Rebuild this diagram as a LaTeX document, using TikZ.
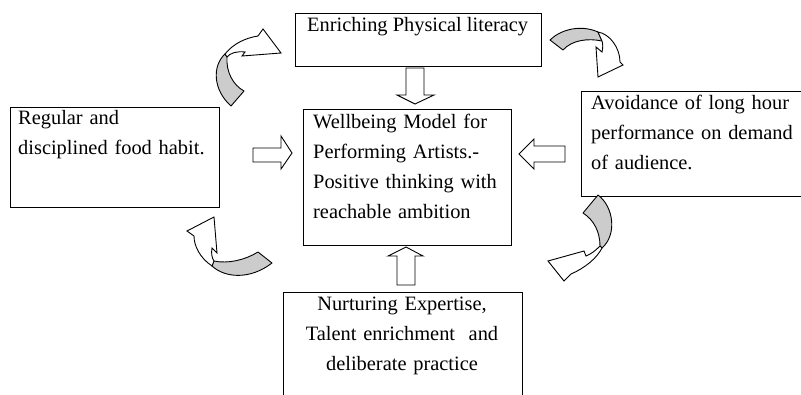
\documentclass[tikz,border=0pt]{standalone}
\usepackage{fontspec}
\setmainfont{Liberation Serif}
\begin{document}
\begin{tikzpicture}[x=1pt,y=-1pt,
  box/.style={draw=black, line width=0.8pt, fill=white, inner sep=0pt, anchor=north west},
  label/.style={inner sep=0pt, anchor=base west, align=left,
    font=\fontsize{20.4}{30.3}\selectfont},
  hollow/.style={draw=black, line width=0.9pt, line join=miter, fill=white},
  shade/.style={draw=black, line width=0.9pt, line join=round, fill=black!20}]
\useasboundingbox (0,0) rectangle (801,394);
\clip (0,0) rectangle (801,394);

% boxes
\node[box, minimum width=246, minimum height=53] (top) at (295,13) {};
\node[box, minimum width=208, minimum height=136] (mid) at (303,109) {};
\node[box, minimum width=209, minimum height=100] (left) at (10,107) {};
\node[box, minimum width=220, minimum height=105] (right) at (581,91) {};
\node[box, minimum width=239, minimum height=120] (bottom) at (283,292) {};

% texts
\node[label] (toptext) at (307,31) {Enriching Physical literacy};
\node[label, text width=200] (midtext) at (313,128)
  {Wellbeing Model for\\Performing Artists.-\\Positive thinking with\\reachable ambition};
\node[label, text width=200] (lefttext) at (18,124) {Regular and\\disciplined food habit.};
\node[label, text width=215] (righttext) at (591,109)
  {Avoidance of long hour\\performance on demand\\of audience.};
\node[label, anchor=base, align=center, text width=230] (bottomtext) at (402,310)
  {Nurturing Expertise,\\Talent enrichment\ \ and\\deliberate practice};

% straight block arrows into the centre
\draw[hollow] (406,68) -- (424,68) -- (424,95) -- (434,95) -- (415,104) -- (397,95) -- (406,95) -- cycle;
\draw[hollow] (397,285) -- (415,285) -- (415,256) -- (423,256) -- (406,247) -- (388,256) -- (397,256) -- cycle;
\draw[hollow] (253,148) -- (281,148) -- (281,136) -- (292,153) -- (281,169) -- (281,162) -- (253,162) -- cycle;
\draw[hollow] (565,146) -- (534,146) -- (534,139) -- (519,154) -- (534,169) -- (534,162) -- (565,162) -- cycle;

% curved arrow, upper left
\draw[shade] (231,106) .. controls (213,90) and (212,66) .. (225,54) -- (227,57)
  .. controls (226,72) and (233,85) .. (244,91) -- cycle;
\draw[hollow] (225,54) .. controls (233,44) and (245,38) .. (258,36) -- (263,29) -- (281,53)
  -- (242,56) -- (245,52) .. controls (237,51) and (230,53) .. (227,57) -- cycle;

% curved arrow, upper right
\draw[shade] (550,40) .. controls (560,30) and (580,24) .. (598,32) -- (602,41)
  .. controls (588,38) and (572,40) .. (563,50) -- cycle;
\draw[hollow] (598,32) .. controls (610,34) and (620,48) .. (620,62) -- (623,65) -- (598,77)
  -- (596,47) -- (602,52) .. controls (603,48) and (603,44) .. (602,41) -- cycle;

% curved arrow, lower right
\draw[shade] (598,195) .. controls (614,207) and (617,235) .. (602,248) -- (600,246)
  .. controls (600,232) and (594,220) .. (583,213) -- cycle;
\draw[hollow] (600,246) .. controls (595,251) and (591,254) .. (586,256) -- (584,251) -- (548,261)
  -- (564,281) -- (571,274) .. controls (585,268) and (597,258) .. (602,248) -- cycle;

% curved arrow, lower left
\draw[shade] (258,252) .. controls (245,260) and (228,264) .. (214,261) -- (212,266)
  .. controls (225,278) and (250,280) .. (272,263) -- cycle;
\draw[hollow] (212,266) .. controls (200,258) and (194,246) .. (194,236) -- (187,231) -- (214,217)
  -- (217,253) -- (212,248) .. controls (211,254) and (212,258) .. (214,261) -- cycle;
\end{tikzpicture}
\end{document}
